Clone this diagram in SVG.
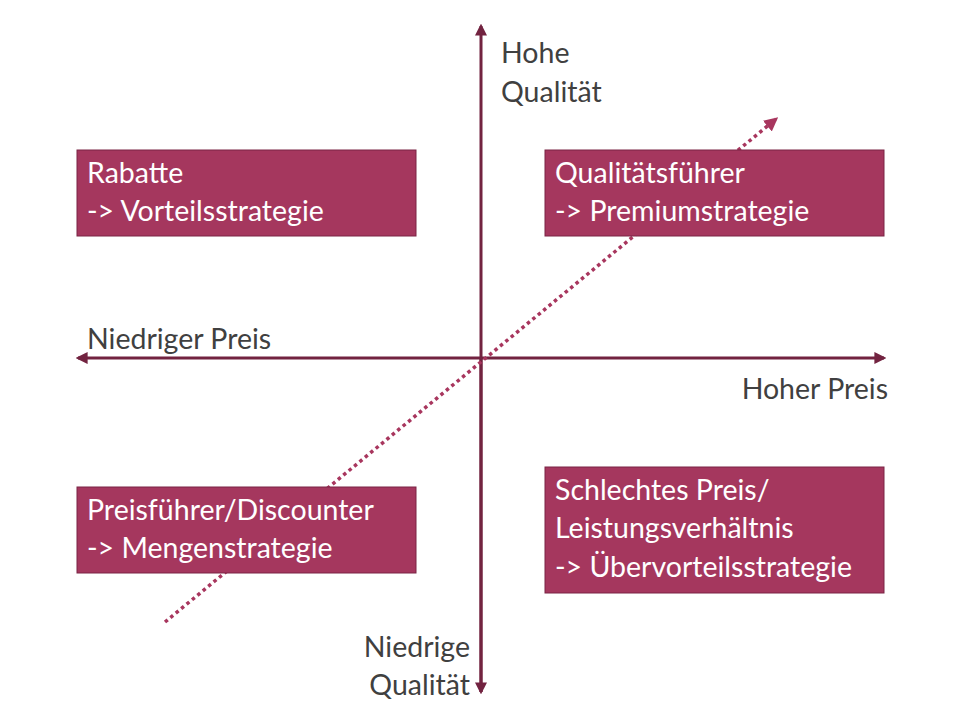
<svg xmlns="http://www.w3.org/2000/svg" width="960" height="720" viewBox="0 0 960 720">
<style>
.box{fill:#A5375E;stroke:#7a2445;stroke-width:1}
.bt{font-family:Lato,"Noto Sans",sans-serif;font-size:28.5px;fill:#fff}
.lt{font-family:Lato,"Noto Sans",sans-serif;font-size:28.5px;fill:#404040}
.ax{stroke:#722340;stroke-width:3;fill:none}
</style>
<defs>
<marker id="ah" viewBox="0 0 10 10" refX="8" refY="5" markerWidth="4" markerHeight="4" orient="auto"><path d="M0,0L10,5L0,10z" fill="#722340"/></marker>
<marker id="ah2" viewBox="0 0 10 10" refX="8" refY="5" markerWidth="4" markerHeight="4" orient="auto"><path d="M0,0L10,5L0,10z" fill="#A8365E"/></marker>
</defs>
<rect width="960" height="720" fill="#fff"/>
<g id="connectors">
<line class="ax" x1="481" y1="692" x2="481" y2="26" marker-end="url(#ah)"/>
<line class="ax" x1="481" y1="358" x2="481" y2="692" marker-end="url(#ah)"/>
<line class="ax" x1="481" y1="358" x2="78" y2="358" marker-end="url(#ah)"/>
<line class="ax" x1="481" y1="358" x2="884" y2="358" marker-end="url(#ah)"/>
<line x1="165" y1="622" x2="776" y2="119" stroke="#A8365E" stroke-width="3.5" stroke-dasharray="3.5 3.5" marker-end="url(#ah2)"/>
</g>
<g id="tl"><rect class="box" x="77" y="150" width="339" height="86"/><text class="bt" x="87" y="183">Rabatte</text><text class="bt" x="87" y="221">-&gt; Vorteilsstrategie</text></g>
<g id="tr"><rect class="box" x="545" y="150" width="339" height="86"/><text class="bt" x="555" y="183">Qualitätsführer</text><text class="bt" x="555" y="221">-&gt; Premiumstrategie</text></g>
<g id="bl"><rect class="box" x="77" y="487" width="339" height="86"/><text class="bt" x="87" y="520">Preisführer/Discounter</text><text class="bt" x="87" y="558">-&gt; Mengenstrategie</text></g>
<g id="br"><rect class="box" x="545" y="467" width="339" height="126"/><text class="bt" x="555" y="500">Schlechtes Preis/</text><text class="bt" x="555" y="538">Leistungsverhältnis</text><text class="bt" x="555" y="577">-&gt; Übervorteilsstrategie</text></g>
<g id="labels">
<text class="lt" x="501" y="63">Hohe</text><text class="lt" x="501" y="102">Qualität</text>
<text class="lt" x="87" y="349">Niedriger Preis</text>
<text class="lt" x="888" y="399" text-anchor="end">Hoher Preis</text>
<text class="lt" x="470" y="657" text-anchor="end">Niedrige</text><text class="lt" x="470" y="695" text-anchor="end">Qualität</text>
</g>
</svg>
